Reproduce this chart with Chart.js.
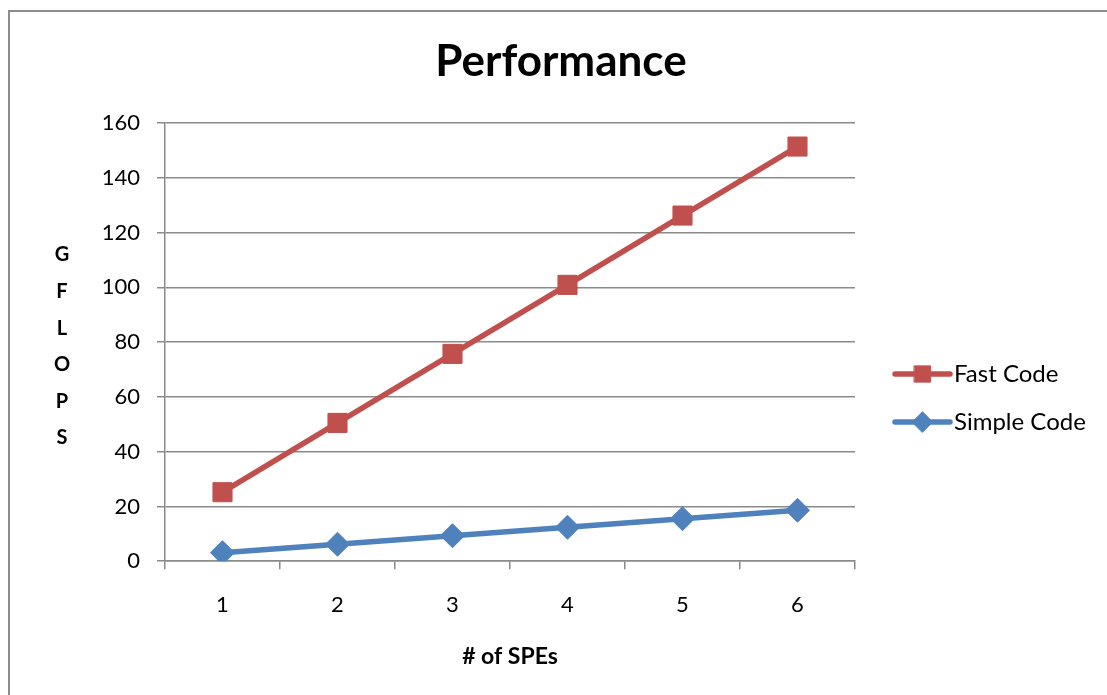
<!DOCTYPE html>
<html>
<head>
<meta charset="utf-8">
<script src="https://cdn.jsdelivr.net/npm/chart.js@4/dist/chart.umd.min.js"></script>
<style>
  html, body { margin: 0; padding: 0; background: #fff; }
  #wrap { width: 1107px; height: 695px; position: relative; }
</style>
</head>
<body>
<div id="wrap"><canvas id="chart" width="1107" height="695"></canvas></div>
<script>
// Number of SPEs on the x axis
const categories = ['1', '2', '3', '4', '5', '6'];
// GFLOPS per configuration
const fastCode = [25.2, 50.5, 75.7, 100.9, 126.2, 151.4];
const simpleCode = [3.1, 6.2, 9.3, 12.4, 15.5, 18.6];
// Value axis range
const yMin = 0;
const yMax = 160;
const yStep = 20;
const yAxisLetters = ['G', 'F', 'L', 'O', 'P', 'S'];

const FONT = 'Lato, "Open Sans", sans-serif';
const RED = '#C0504D';
const BLUE = '#4F81BD';
const GRID = '#8a8a8a';

// Outer frame of the chart object
const framePlugin = {
  id: 'frame',
  beforeDraw(chart) {
    const ctx = chart.ctx;
    ctx.save();
    ctx.fillStyle = '#fff';
    ctx.fillRect(0, 0, chart.width, chart.height);
    ctx.strokeStyle = '#8c8c8c';
    ctx.lineWidth = 2;
    ctx.strokeRect(9, 11, chart.width + 20, chart.height + 20);
    ctx.restore();
  }
};

// Stacked, unrotated letters for the value axis title
const stackedTitlePlugin = {
  id: 'stackedTitle',
  afterDraw(chart) {
    const ctx = chart.ctx;
    const area = chart.chartArea;
    ctx.save();
    ctx.fillStyle = '#000';
    ctx.font = 'bold 20px ' + FONT;
    ctx.textAlign = 'center';
    ctx.textBaseline = 'middle';
    const gap = 36.6;
    const x = area.left - 103;
    const y0 = 255;
    yAxisLetters.forEach((ch, i) => ctx.fillText(ch, x, y0 + i * gap));
    ctx.restore();
  }
};

// Legend with line samples and markers, drawn at the right of the plot
const sideLegendPlugin = {
  id: 'sideLegend',
  afterDraw(chart) {
    const ctx = chart.ctx;
    const area = chart.chartArea;
    const x0 = area.right + 40;
    const x1 = x0 + 55;
    ctx.save();
    chart.data.datasets.forEach((ds, i) => {
      const y = 374 + i * 48;
      ctx.strokeStyle = ds.borderColor;
      ctx.lineWidth = ds.borderWidth;
      ctx.lineCap = 'round';
      ctx.beginPath();
      ctx.moveTo(x0, y);
      ctx.lineTo(x1, y);
      ctx.stroke();
      ctx.fillStyle = ds.pointBackgroundColor;
      ctx.strokeStyle = ds.pointBackgroundColor;
      ctx.lineWidth = 1;
      Chart.helpers.drawPoint(ctx, {
        pointStyle: ds.pointStyle,
        radius: ds.pointRadius * 0.85,
        rotation: 0,
        borderWidth: 1
      }, (x0 + x1) / 2, y);
      ctx.fillStyle = '#000';
      ctx.font = '24px ' + FONT;
      ctx.textAlign = 'left';
      ctx.textBaseline = 'middle';
      ctx.fillText(ds.label, x1 + 4, y);
    });
    ctx.restore();
  }
};

new Chart(document.getElementById('chart'), {
  type: 'line',
  data: {
    labels: categories,
    datasets: [
      {
        label: 'Fast Code',
        data: fastCode,
        borderColor: RED,
        backgroundColor: RED,
        pointBackgroundColor: RED,
        pointBorderColor: RED,
        borderWidth: 5.5,
        pointStyle: 'rect',
        pointRadius: 13.5,
        pointBorderWidth: 1,
        tension: 0
      },
      {
        label: 'Simple Code',
        data: simpleCode,
        borderColor: BLUE,
        backgroundColor: BLUE,
        pointBackgroundColor: BLUE,
        pointBorderColor: BLUE,
        borderWidth: 5.5,
        pointStyle: 'rectRot',
        pointRadius: 12,
        pointBorderWidth: 1,
        tension: 0
      }
    ]
  },
  options: {
    responsive: false,
    animation: false,
    devicePixelRatio: 1,
    layout: { padding: { left: 15, right: 0, top: 35, bottom: 0 } },
    plugins: {
      legend: { display: false },
      tooltip: { enabled: false },
      title: {
        display: true,
        text: 'Performance',
        color: '#000',
        font: { family: FONT, size: 44, weight: 'bold', lineHeight: 1.2 },
        padding: { top: 0, bottom: 35.2 }
      }
    },
    scales: {
      x: {
        type: 'category',
        offset: true,
        grid: {
          offset: true,
          drawOnChartArea: false,
          drawTicks: true,
          tickLength: 8,
          color: GRID,
          lineWidth: 1.5
        },
        border: { display: true, color: GRID, width: 1.5 },
        ticks: {
          color: '#000',
          padding: 22.8,
          font: { family: FONT, size: 22, lineHeight: 1.2 }
        },
        title: {
          display: true,
          text: '# of SPEs',
          color: '#000',
          font: { family: FONT, size: 23, weight: 'bold', lineHeight: 1.2 },
          padding: { top: 2, bottom: 24.2 }
        }
      },
      y: {
        min: yMin,
        max: yMax,
        afterFit(scale) { scale.width = 150; },
        grid: {
          drawOnChartArea: true,
          drawTicks: true,
          tickLength: 8,
          color: GRID,
          lineWidth: 1.5
        },
        border: { display: true, color: GRID, width: 1.5 },
        ticks: {
          stepSize: yStep,
          color: '#000',
          padding: 17,
          font: { family: FONT, size: 22, lineHeight: 1.2 }
        }
      },
      // Empty right-hand box that reserves the legend column
      legendSpace: {
        position: 'right',
        display: true,
        afterFit(scale) { scale.width = 252; },
        grid: { display: false, drawTicks: false },
        border: { display: false },
        ticks: { display: false }
      }
    }
  },
  plugins: [framePlugin, stackedTitlePlugin, sideLegendPlugin]
});
</script>
</body>
</html>
